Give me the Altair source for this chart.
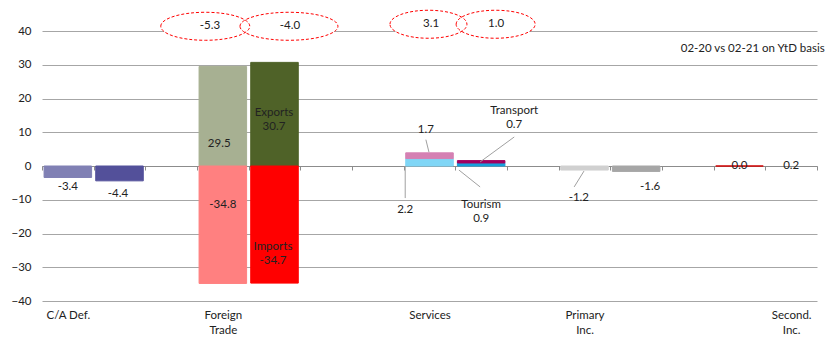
import altair as alt
import pandas as pd

# ---------------- data ----------------
series = ["CA20", "CA21", "Exp20", "Exp21", "Imp20", "Imp21",
          "Tour20", "Trans20", "Tour21", "Trans21",
          "Prim20", "Prim21", "Sec20", "Sec21"]
slots = [0, 1, 3, 4, 3, 4, 7, 7, 8, 8, 10, 11, 13, 14]
values = [-3.4, -4.4, 29.5, 30.7, -34.8, -34.7, 2.2, 1.7, 0.9, 0.7, -1.2, -1.6, 0.0, 0.2]
stack_order = [0, 0, 0, 0, 0, 0, 0, 1, 0, 1, 0, 0, 0, 0]

cat_slots = [0, 3, 7, 10, 14]
cat_labels = [["C/A Def."], ["Foreign", "Trade"], ["Services"], ["Primary", "Inc."], ["Second.", "Inc."]]

# balance annotations (ellipses)
ell_text = ["-5.3", "-4.0", "3.1", "1.0"]
ell_x = [3.16, 4.78, 7.48, 8.78]
ell_y = [41.4, 41.4, 42.0, 42.0]
ell_tx = [3.25, 4.80, 7.53, 8.79]

# value labels
lab_text = ["-3.4", "-4.4", "29.5", "Exports\n30.7", "-34.8", "Imports\n-34.7",
            "1.7", "2.2", "Transport\n0.7", "Tourism\n0.9", "-1.2", "-1.6", "0.0", "0.2"]
lab_x = [0.5, 1.47, 3.43, 4.49, 3.5, 4.47, 7.43, 7.03, 9.14, 8.5, 10.39, 11.77, 13.5, 14.5]
lab_y = [-6.2, -8.3, 6.5, 15.7, -11.6, -24.1, 10.7, -13.0, 16.4, -11.7, -9.5, -6.2, 0.0, 0.0]

# leader lines
lead_x = [7.43, 7.03, 9.14, 8.07, 10.49]
lead_y = [7.8, 0.0, 8.6, -1.2, -1.5]
lead_x2 = [7.49, 7.03, 8.48, 8.48, 10.30]
lead_y2 = [4.1, -9.5, 1.2, -6.2, -6.2]

note_text = ["02-20 vs 02-21 on YtD basis"]
note_x = [15.15]
note_y = [34.7]

# ---------------- styles ----------------
palette = {
    "CA20": "#8080b4", "CA21": "#53509a",
    "Exp20": "#a7b092", "Exp21": "#4f6228",
    "Imp20": "#ff8080", "Imp21": "#ff0000",
    "Tour20": "#80d6f6", "Trans20": "#d580b3",
    "Tour21": "#17a0dc", "Trans21": "#a1005f",
    "Prim20": "#d0d0d0", "Prim21": "#a6a6a6",
    "Sec20": "#d00000", "Sec21": "transparent",
}
ell_width = [89, 98, 77, 79]
ell_height = 28
FONT = "Lato"
FS = 11.5
TXT = "#222222"
GRID = "#a6a6a6"

W, H = 775, 270

# ---------------- tables ----------------
df = pd.DataFrame(dict(series=series, slot=slots, value=values, ord=stack_order))
df["pos"] = df["value"] >= 0
df = df.sort_values(["slot", "ord"])
df["y1"] = df.groupby(["slot", "pos"])["value"].cumsum()
df["y0"] = df["y1"] - df["value"]
df["x0"] = df["slot"] + 0.04
df["x1"] = df["slot"] + 0.96
df["color"] = df["series"].map(palette)

xs = alt.Scale(domain=[0, 15], nice=False, zero=False)
ys = alt.Scale(domain=[-40, 40], nice=False, zero=False)

expr = "''"
for s, lab in reversed(list(zip(cat_slots, cat_labels))):
    arr = "[" + ",".join("'" + t + "'" for t in lab) + "]"
    expr = f"datum.value == {s} ? {arr} : ({expr})"

x_axis = alt.Axis(values=list(range(16)), orient="bottom", offset=-(H / 2),
                  tickSize=4, tickColor="#8c8c8c", domainColor="#8c8c8c",
                  grid=False, labelExpr=expr, labelOffset=W / 30,
                  labelPadding=139, labelFlush=False, labelOverlap=False,
                  labelBound=False, labelLineHeight=15, labelBaseline="top",
                  title=None)
y_axis = alt.Axis(values=list(range(-40, 41, 10)), grid=True, gridColor=GRID,
                  domain=False, ticks=False, labelPadding=11, title=None)


def X(f):
    return alt.X(f, scale=xs, axis=x_axis)


def Y(f):
    return alt.Y(f, scale=ys, axis=y_axis)


bars = alt.Chart(df).mark_bar(strokeWidth=1).encode(
    x=X("x0:Q"),
    x2="x1:Q",
    y=Y("y0:Q"),
    y2="y1:Q",
    color=alt.Color("color:N", scale=None),
    stroke=alt.Stroke("color:N", scale=None),
)

lead_df = pd.DataFrame(dict(x=lead_x, y=lead_y, x2=lead_x2, y2=lead_y2))
leaders = alt.Chart(lead_df).mark_rule(color="#a0a0a0", strokeWidth=1).encode(
    x=X("x:Q"), x2="x2:Q",
    y=Y("y:Q"), y2="y2:Q",
)

ell_layers_fill = []
ell_layers_stroke = []
for i in range(len(ell_text)):
    w = ell_width[i]
    ry = ell_height / w
    path = f"M-1,0A1,{ry:.4f},0,1,1,1,0A1,{ry:.4f},0,1,1,-1,0Z"
    d = pd.DataFrame(dict(x=[ell_x[i]], y=[ell_y[i]]))
    base = alt.Chart(d).encode(x=X("x:Q"), y=Y("y:Q"))
    ell_layers_fill.append(base.mark_point(shape=path, size=w * w, filled=True,
                                           fill="white", strokeWidth=0, opacity=1))
    ell_layers_stroke.append(base.mark_point(shape=path, size=w * w, filled=False,
                                             stroke="#ff0000", strokeWidth=1,
                                             strokeDash=[3, 2], opacity=1))

ell_df = pd.DataFrame(dict(x=ell_tx, y=ell_y, text=ell_text))
ell_labels = alt.Chart(ell_df).mark_text(font=FONT, fontSize=FS, color=TXT).encode(
    x=X("x:Q"), y=Y("y:Q"), text="text:N",
)

lab_df = pd.DataFrame(dict(x=lab_x, y=lab_y, text=lab_text))
labels = alt.Chart(lab_df).mark_text(font=FONT, fontSize=FS, color=TXT,
                                     lineBreak="\n", lineHeight=14,
                                     baseline="middle").encode(
    x=X("x:Q"), y=Y("y:Q"), text="text:N",
)

note_df = pd.DataFrame(dict(x=note_x, y=note_y, text=note_text))
note = alt.Chart(note_df).mark_text(font=FONT, fontSize=FS, color=TXT, align="right").encode(
    x=X("x:Q"), y=Y("y:Q"), text="text:N",
)

chart = alt.layer(
    bars, leaders, *ell_layers_fill, *ell_layers_stroke, ell_labels, labels, note
).properties(
    width=W, height=H,
    autosize=alt.AutoSizeParams(type="none"),
    padding={"left": 34, "top": 23, "right": 13, "bottom": 46},
    background="white",
).configure_view(stroke=None).configure_axis(
    labelFont=FONT, labelFontSize=FS, labelColor=TXT
)

chart.save("out.html", embed_options={"renderer": "svg", "actions": False})
